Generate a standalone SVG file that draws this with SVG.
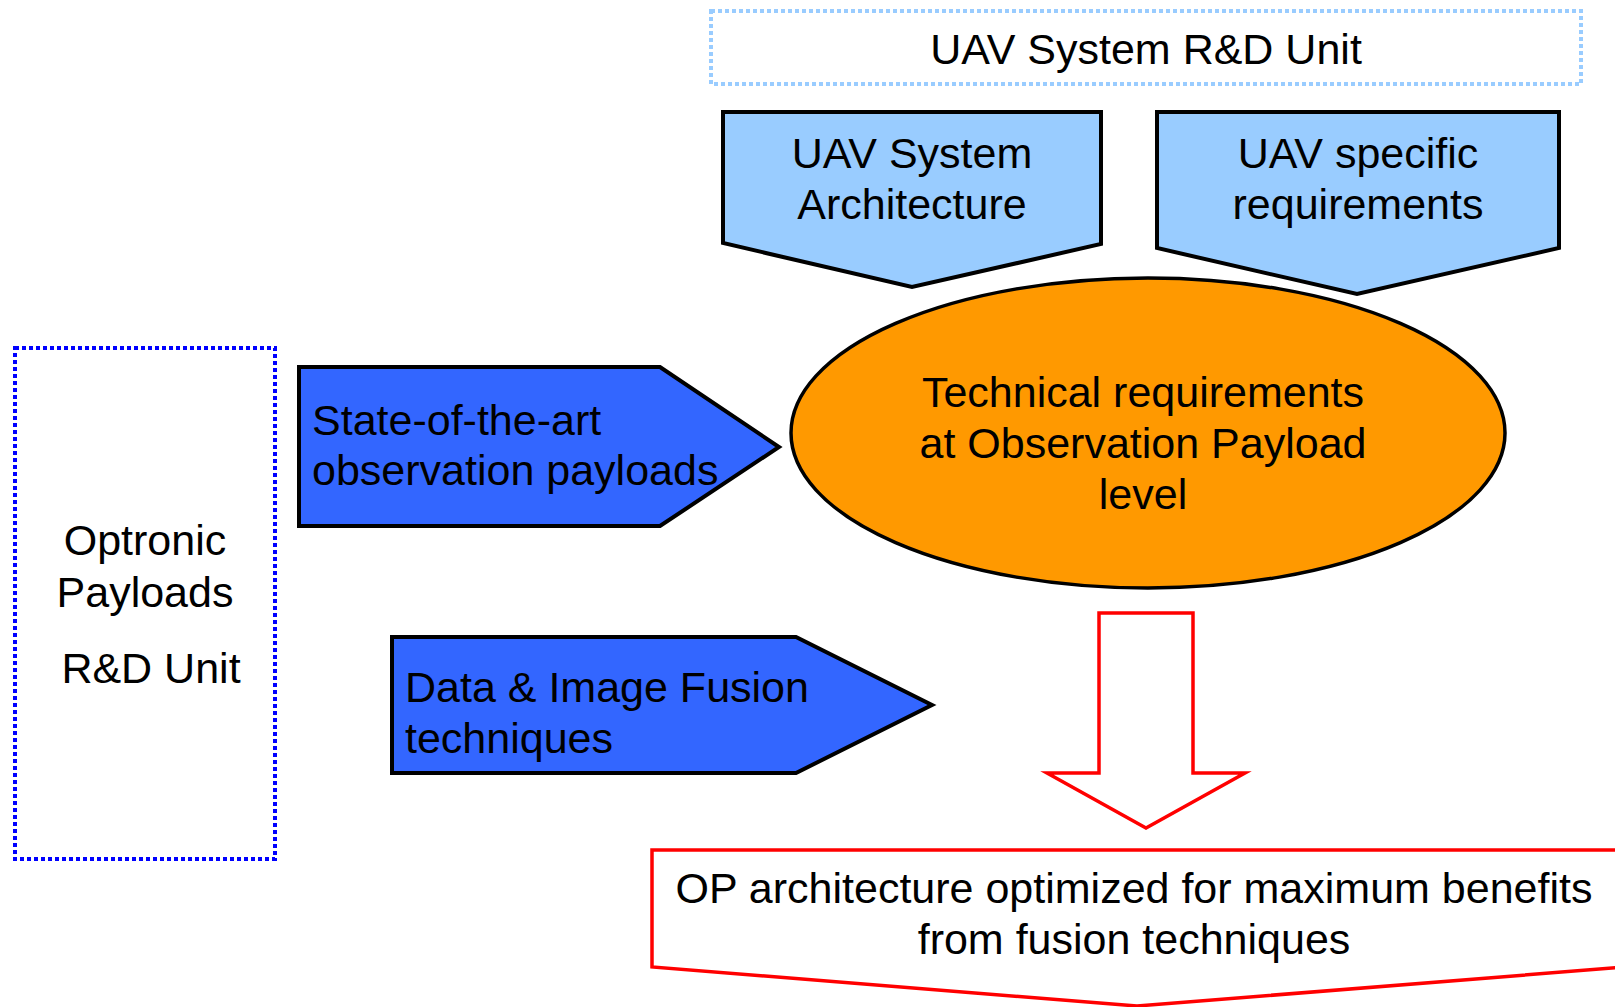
<svg xmlns="http://www.w3.org/2000/svg" width="1615" height="1007" viewBox="0 0 1615 1007">
<style>
text{font-family:"Liberation Sans",Arial,sans-serif;font-size:43px;fill:#000}
.c{text-anchor:middle}
.lb{fill:#99CCFF;stroke:#000;stroke-width:4;stroke-linejoin:miter}
.bl{fill:#3366FF;stroke:#000;stroke-width:4}
.rd{fill:#FFF;stroke:#FF0000;stroke-width:3.5}
</style>
<rect width="1615" height="1007" fill="#FFF"/>
<g id="uav-unit">
<rect x="711" y="11" width="870" height="73" fill="none" stroke="#99CCFF" stroke-width="4" stroke-dasharray="4 3"/>
<text class="c" x="1146" y="64">UAV System R&amp;D Unit</text>
</g>
<g id="optronic-unit">
<rect x="15" y="348" width="260" height="511" fill="none" stroke="#0000FF" stroke-width="4" stroke-dasharray="4 3"/>
<text class="c" x="145" y="555">Optronic</text>
<text class="c" x="145" y="607">Payloads</text>
<text class="c" x="151" y="683">R&amp;D Unit</text>
</g>
<g id="connectors">
<path class="rd" d="M1099,613 H1193 V773 H1245 L1146,828 L1047,773 H1099 Z"/>
</g>
<g id="uav-arch">
<path class="lb" d="M723,112 H1101 V244 L912,287 L723,243 Z"/>
<text class="c" x="912" y="168">UAV System</text>
<text class="c" x="912" y="219">Architecture</text>
</g>
<g id="uav-req">
<path class="lb" d="M1157,112 H1559 V248 L1357,294 L1157,248 Z"/>
<text class="c" x="1358" y="168">UAV specific</text>
<text class="c" x="1358" y="219">requirements</text>
</g>
<g id="tech-req">
<ellipse cx="1148" cy="433" rx="357" ry="155" fill="#FF9900" stroke="#000" stroke-width="3.5"/>
<text class="c" x="1143" y="407">Technical requirements</text>
<text class="c" x="1143" y="458">at Observation Payload</text>
<text class="c" x="1143" y="509">level</text>
</g>
<g id="state-of-art">
<path class="bl" d="M299,367 H660 L779,447 L660,526 H299 Z"/>
<text x="312" y="435">State-of-the-art</text>
<text x="312" y="485">observation payloads</text>
</g>
<g id="fusion">
<path class="bl" d="M392,637 H796 L932,705 L796,773 H392 Z"/>
<text x="405" y="702">Data &amp; Image Fusion</text>
<text x="405" y="753">techniques</text>
</g>
<g id="op-arch">
<path class="rd" d="M652,850 H1625 V967 L1137,1006 L652,967 Z"/>
<text class="c" x="1134" y="903">OP architecture optimized for maximum benefits</text>
<text class="c" x="1134" y="954">from fusion techniques</text>
</g>
</svg>
